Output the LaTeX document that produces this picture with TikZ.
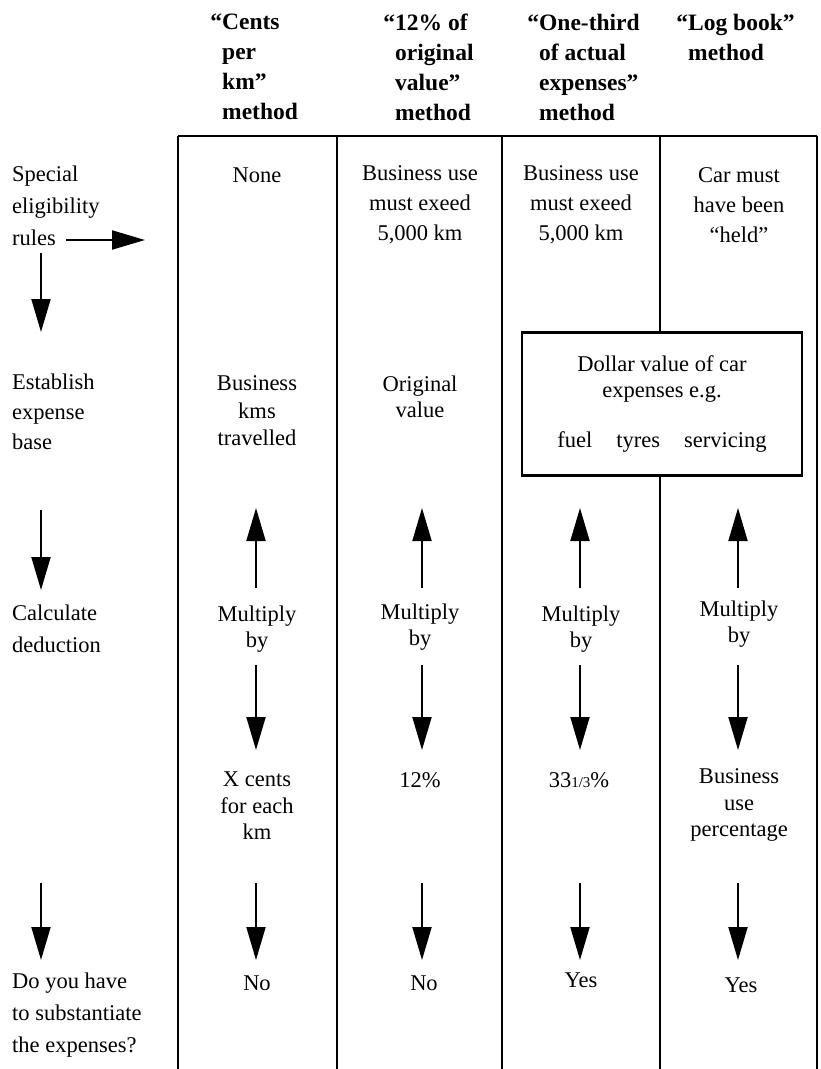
\documentclass[tikz,border=0pt]{standalone}
\usepackage{fontspec}
\setmainfont{Liberation Serif}
\usetikzlibrary{arrows.meta,calc}
\begin{document}
\begin{tikzpicture}[x=1pt,y=-1pt,
  txt/.style={inner sep=0pt, font=\fontsize{22.5}{26.5}\selectfont, align=center},
  lbl/.style={inner sep=0pt, font=\fontsize{22.5}{32}\selectfont, align=left, anchor=west},
  hdr/.style={inner sep=0pt, font=\fontsize{23.5}{30}\selectfont\bfseries, align=left, anchor=west},
  rule/.style={line width=2.3pt},
  arr/.style={line width=2pt, -{Triangle[length=33pt,width=19pt]}}]
\useasboundingbox (0,0) rectangle (820,1069);
% headers
\node[hdr] (h1) at (222,67) {\llap{“}Cents\\per\\km”\\method};
\node[hdr] (h2) at (395,67) {\llap{“}12\% of\\original\\value”\\method};
\node[hdr] (h3) at (539,67) {\llap{“}One-third\\of actual\\expenses”\\method};
\node[hdr] (h4) at (688,37) {\llap{“}Log book”\\method};
% frame
\coordinate (tl) at (178,136);
\coordinate (tr) at (817,136);
\draw[rule] (tl) -- (tr);
\draw[rule] (178,136) -- (178,1069);
\draw[rule] (337,136) -- (337,1069);
\draw[rule] (502,136) -- (502,1069);
\draw[rule] (817,136) -- (817,1069);
% box
\node[draw, rule, minimum width=280pt, minimum height=143pt, inner sep=0pt,
  font=\fontsize{22.5}{26}\selectfont, align=center] (box) at (662,404)
  {Dollar value of car\\expenses e.g.\\[24pt]fuel\hspace{24pt}tyres\hspace{24pt}servicing};
\coordinate (vt) at (660,136);
\coordinate (vb) at (660,1069);
\draw[rule] (vt) -- (vt |- box.north);
\draw[rule] (vb |- box.south) -- (vb);
% left labels
\node[lbl] (l1) at (12,205.5) {Special\\eligibility\\rules};
\node[lbl, font=\fontsize{22.5}{30}\selectfont] (l2) at (12,412) {Establish\\expense\\base};
\node[lbl] (l3) at (12,629) {Calculate\\deduction};
\node[lbl] (l4) at (12,1015) {Do you have\\to substantiate\\the expenses?};
\coordinate (ra) at (66,240);
\coordinate (rb) at (145,240);
\draw[arr] (ra) -- (rb);
\coordinate (d1a) at (41,253);
\coordinate (d1b) at (41,332);
\draw[arr] (d1a) -- (d1b);
\coordinate (d2a) at (41,510);
\coordinate (d2b) at (41,590);
\draw[arr] (d2a) -- (d2b);
\coordinate (d3a) at (41,883);
\coordinate (d3b) at (41,960);
\draw[arr] (d3a) -- (d3b);
% row 1
\node[txt] (r1c1) at (257,175) {None};
\node[txt,font=\fontsize{22.5}{30}\selectfont] (r1c2) at (420,205) {Business use\\must exeed\\5,000 km};
\node[txt,font=\fontsize{22.5}{30}\selectfont] (r1c3) at (581,205) {Business use\\must exeed\\5,000 km};
\node[txt,font=\fontsize{22.5}{30}\selectfont] (r1c4) at (739,205) {Car must\\have been\\“held”};
% row 2
\node[txt,font=\fontsize{22.5}{27.5}\selectfont] (r2c1) at (257,411) {Business\\kms\\travelled};
\node[txt] (r2c2) at (420,397) {Original\\value};
% row 3
\node[txt] (r3c1) at (257,629) {Multiply\\by};
\node[txt] (r3c2) at (420,627) {Multiply\\by};
\node[txt] (r3c3) at (581,629) {Multiply\\by};
\node[txt] (r3c4) at (739,624) {Multiply\\by};
% row 4
\node[txt] (r4c1) at (257,806) {X cents\\for each\\km};
\node[txt] (r4c2) at (420,780) {12\%};
\node[txt] (r4c3) at (579,780) {33{\fontsize{15}{15}\selectfont 1/3}\%};
\node[txt] (r4c4) at (739,805) {Business\\use\\percentage};
% row 5
\node[txt] (r5c1) at (257,983) {No};
\node[txt] (r5c2) at (424,983) {No};
\node[txt] (r5c3) at (581,980) {Yes};
\node[txt] (r5c4) at (741,985) {Yes};
% column arrows
\foreach \i/\x in {1/256,2/422,3/580,4/738}{
  \coordinate (ua\i) at (\x,588);
  \coordinate (ub\i) at (\x,508);
  \draw[arr] (ua\i) -- (ub\i);
  \coordinate (ma\i) at (\x,665);
  \coordinate (mb\i) at (\x,750);
  \draw[arr] (ma\i) -- (mb\i);
  \coordinate (na\i) at (\x,883);
  \coordinate (nb\i) at (\x,960);
  \draw[arr] (na\i) -- (nb\i);
}
\end{tikzpicture}
\end{document}
